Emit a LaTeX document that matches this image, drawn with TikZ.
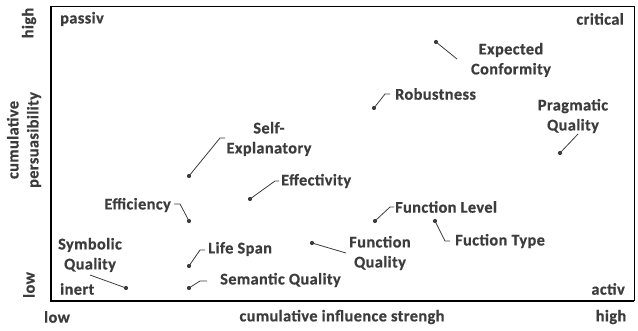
\documentclass[tikz,border=0pt]{standalone}
\usepackage{fontspec}
\setmainfont{Carlito}
\newfontfamily\lblfont{Carlito}[LetterSpace=2.5,BoldFont={* Bold},BoldFeatures={FakeBold=0.6}]
\begin{document}
\begin{tikzpicture}[x=1pt,y=-1pt,
  lbl/.style={text=txt,font=\lblfont\fontsize{16.3}{20}\selectfont\bfseries,inner sep=0pt,align=center},
  pt/.style={circle,fill=txt,inner sep=0pt,minimum size=4.2pt},
  lead/.style={draw=txt,line width=0.8pt}]
\definecolor{txt}{HTML}{3C3C3C}
\useasboundingbox (0,0) rectangle (638,331);
% frame
\draw[line width=0.9pt] (51,6) -- (634,6) -- (634,301);
\draw[line width=1.4pt] (51,6) -- (51,301) -- (634,301);
% corner labels
\node[lbl,anchor=west] (passiv) at (60,19) {passiv};
\node[lbl,anchor=east] (critical) at (624,19) {critical};
\node[lbl,anchor=west] (inert) at (60,289) {inert};
\node[lbl,anchor=east] (activ) at (625,289) {activ};
% axis labels
\node[lbl] (xlow) at (57,317) {low};
\node[lbl] (xhigh) at (611,317) {high};
\node[lbl] (xtitle) at (342,317) {cumulative influence strengh};
\node[lbl,rotate=90] (ylow) at (29,285) {low};
\node[lbl,rotate=90] (yhigh) at (29,23) {high};
\node[lbl,rotate=90] (ytitle) at (24,140) {cumulative\\persuasibility};
% points
\node[pt] (pEC) at (436,42) {};
\node[pt] (pRob) at (374,108) {};
\node[pt] (pPQ) at (560,153) {};
\node[pt] (pSE) at (189,176) {};
\node[pt] (pEff) at (250,199) {};
\node[pt] (pEfc) at (189,221) {};
\node[pt] (pFL) at (375,221) {};
\node[pt] (pFT) at (435,221) {};
\node[pt] (pFQ) at (312,243) {};
\node[pt] (pLS) at (189,266) {};
\node[pt] (pSQ) at (126,288) {};
\node[pt] (pSem) at (189,288) {};
% labels
\node[lbl] (tEC) at (511,60) {Expected\\Conformity};
\node[lbl,anchor=west] (tRob) at (395,94) {Robustness};
\node[lbl] (tPQ) at (573,116) {Pragmatic\\Quality};
\node[lbl] (tSE) at (269,139) {Self-\\Explanatory};
\node[lbl,anchor=west] (tEff) at (281,181) {Effectivity};
\node[lbl,anchor=east] (tEfc) at (171,205) {Efficiency};
\node[lbl,anchor=west] (tFL) at (395,207) {Function Level};
\node[lbl,anchor=west] (tFT) at (455,241) {Fuction Type};
\node[lbl] (tFQ) at (380,253) {Function\\Quality};
\node[lbl,anchor=west] (tLS) at (208,249) {Life Span};
\node[lbl] (tSQ) at (90,255) {Symbolic\\Quality};
\node[lbl,anchor=west] (tSem) at (220,280) {Semantic Quality};
% leader lines
\coordinate (jEC) at (457,59);
\draw[lead] (pEC.center) -- (jEC);
\coordinate (jRob) at (385,94);
\draw[lead] (pRob.center) -- (jRob) -- (390,94);
\coordinate (jPQ) at (578,134);
\draw[lead] (pPQ.center) -- (jPQ);
\coordinate (jSE) at (220,138);
\draw[lead] (pSE.center) -- (jSE) -- (225,138);
\coordinate (jEff) at (275,181);
\draw[lead] (pEff.center) -- (jEff) -- (279,181);
\coordinate (jEfc) at (180,204);
\draw[lead] (pEfc.center) -- (jEfc) -- (174,204);
\coordinate (jFL) at (390,207);
\draw[lead] (pFL.center) -- (jFL) -- (394,207);
\coordinate (jFT) at (445,241);
\draw[lead] (pFT.center) -- (jFT) -- (450,241);
\coordinate (jFQ) at (346,253);
\draw[lead] (pFQ.center) -- (jFQ);
\coordinate (jLS) at (200,250);
\draw[lead] (pLS.center) -- (jLS) -- (205,250);
\coordinate (jSQ) at (90,275);
\draw[lead] (pSQ.center) -- (jSQ);
\coordinate (jSem) at (200,281);
\draw[lead] (pSem.center) -- (jSem) -- (207,281);
\end{tikzpicture}
\end{document}
